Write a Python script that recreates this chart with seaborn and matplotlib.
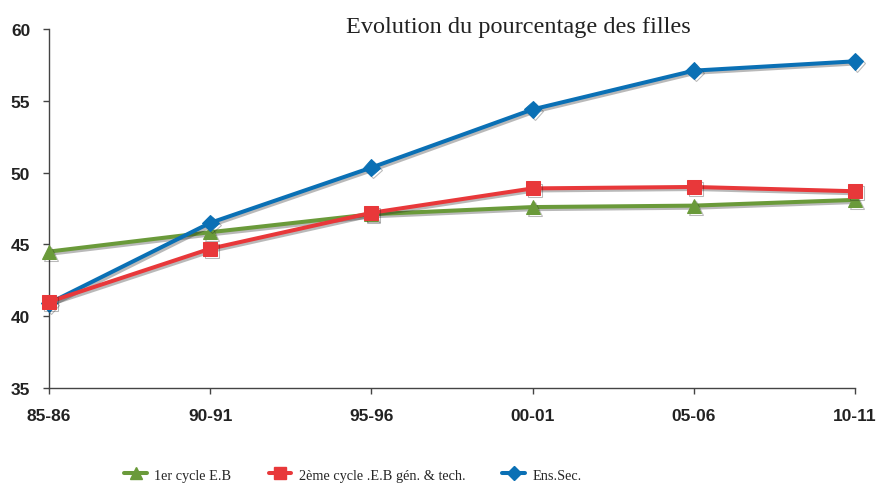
import matplotlib
matplotlib.use("Agg")
import matplotlib.pyplot as plt
import matplotlib.patheffects as pe
import seaborn as sns
import pandas as pd

periods = ["85-86", "90-91", "95-96", "00-01", "05-06", "10-11"]
cycle1 = [44.5, 45.85, 47.1, 47.6, 47.7, 48.1]
cycle2 = [41.0, 44.7, 47.2, 48.9, 49.0, 48.7]
ens_sec = [40.9, 46.5, 50.35, 54.4, 57.1, 57.75]
series_names = ["1er cycle E.B", "2ème cycle .E.B gén. & tech.", "Ens.Sec."]
title = "Evolution du pourcentage des filles"
yticks = [35, 40, 45, 50, 55, 60]

colors = ["#6A9A3A", "#E8383A", "#0A70B5"]
markers = ["^", "s", "D"]
msizes = [10, 10, 8.5]

sns.set_theme(style="white")
plt.rcParams["font.family"] = ["Liberation Sans", "DejaVu Sans"]
serif = ["Liberation Serif", "DejaVu Serif"]

rows = []
for name, vals in zip(series_names, [cycle1, cycle2, ens_sec]):
    for i, (p, v) in enumerate(zip(periods, vals)):
        rows.append({"period": p, "x": i, "value": v, "series": name})
df = pd.DataFrame(rows)

fig = plt.figure(figsize=(8.8, 4.85), dpi=100)
ax = fig.add_axes([49/880, 1-389/485, (855-49)/880, (389-30)/485])

zorders = [3, 4, 3.5]
handles = []
for name, c, m, ms, z in zip(series_names, colors, markers, msizes, zorders):
    sub = df[df["series"] == name]
    sns.lineplot(data=sub, x="x", y="value", ax=ax, color=c, marker=m,
                 markersize=ms, markeredgecolor=c, linewidth=2.9,
                 clip_on=False, zorder=z, legend=False)
    line = ax.get_lines()[-1]
    line.set_path_effects([pe.SimpleLineShadow(offset=(1.5, -1.5), alpha=0.3),
                           pe.Normal()])
    h, = ax.plot([], [], color=c, marker=m, markersize=ms - 1.5, linewidth=2.9,
                 markeredgecolor=c)
    handles.append(h)

ax.set_xlim(0, 5)
ax.set_ylim(35, 60)
ax.set_xticks(range(len(periods)))
ax.set_xticklabels(periods)
ax.set_yticks(yticks)
ax.set_xlabel("")
ax.set_ylabel("")
for lab in ax.get_xticklabels() + ax.get_yticklabels():
    lab.set_fontweight("bold")
    lab.set_fontsize(12.5)
    lab.set_color("#222222")
ax.tick_params(axis="both", which="both", direction="out", length=4.5, width=1,
               color="#444444", left=True, bottom=True)
ax.tick_params(axis="x", pad=10)
ax.tick_params(axis="y", pad=9)
for s in ["top", "right"]:
    ax.spines[s].set_visible(False)
for s in ["left", "bottom"]:
    ax.spines[s].set_color("#444444")
    ax.spines[s].set_linewidth(1.0)

fig.text(518/880, 1-33/485, title, ha="center", va="baseline",
         fontsize=17.5, family=serif, color="#222222")

fig.legend(handles, series_names, loc="center", bbox_to_anchor=(353/880, 1-476/485),
           ncol=3, frameon=False, handlelength=1.6, columnspacing=2.6,
           prop={"family": serif, "size": 10.3}, handletextpad=0.5)

fig.savefig("out.png", dpi=100)
